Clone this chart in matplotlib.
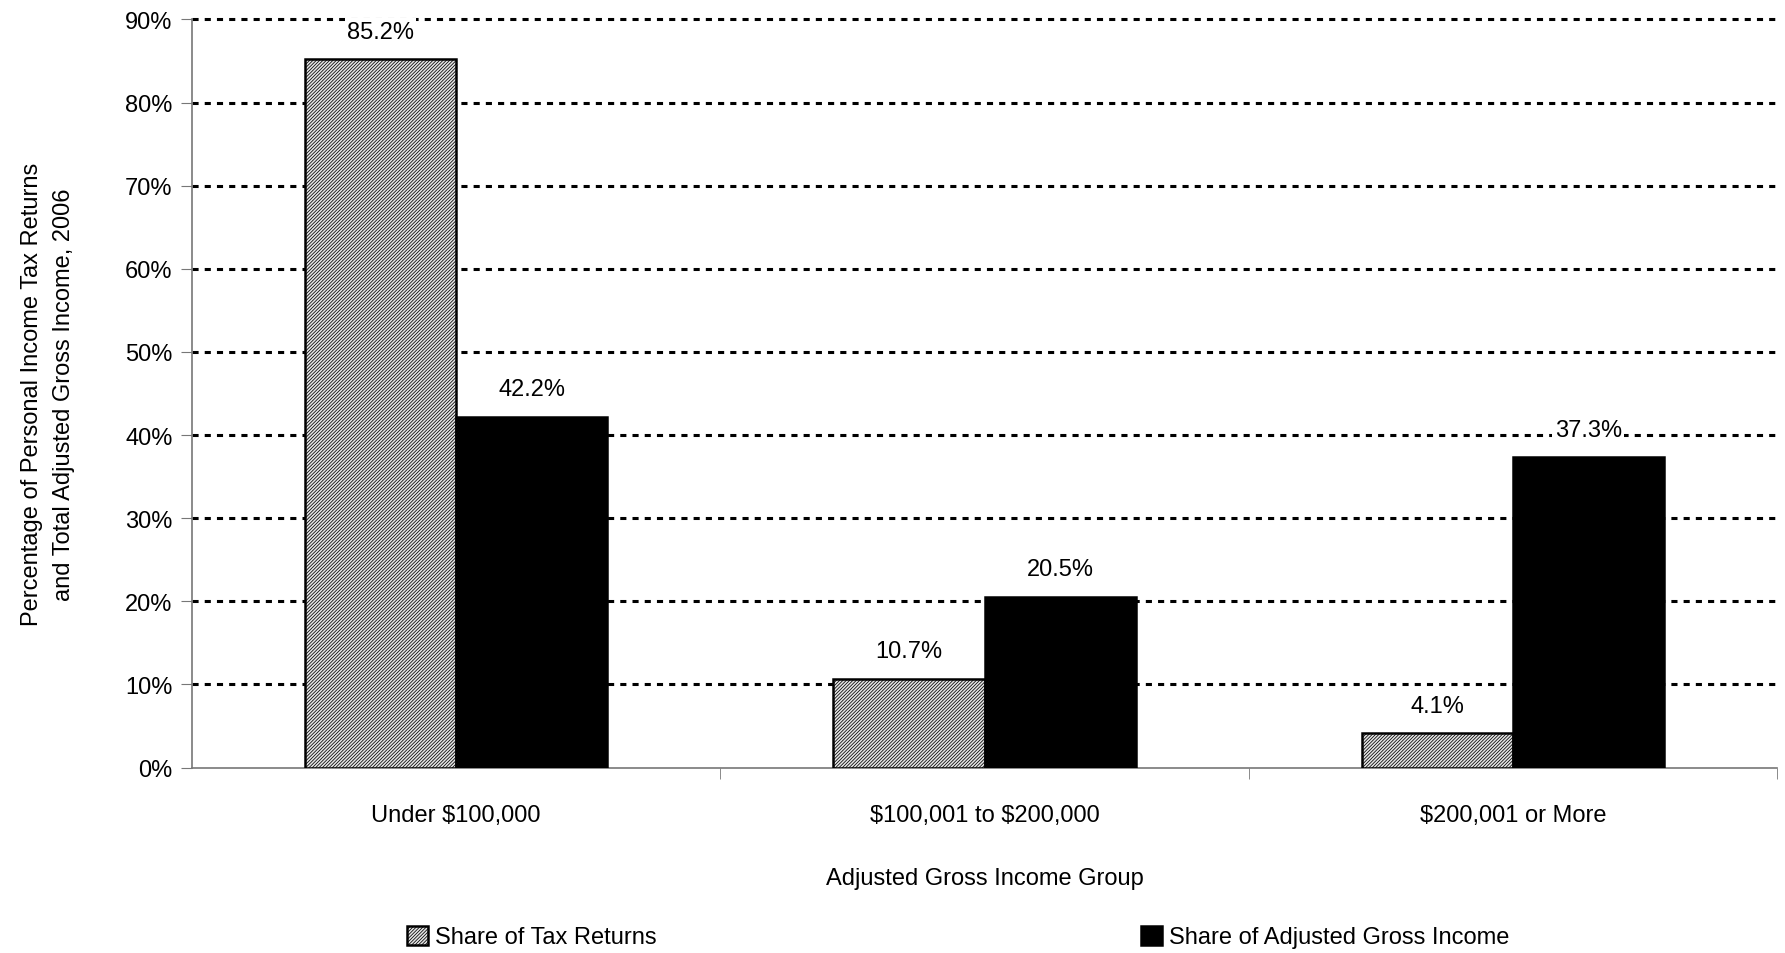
import numpy as np
import matplotlib
matplotlib.use('Agg')
import matplotlib.pyplot as plt

plt.rcParams['font.family'] = ['Liberation Sans', 'DejaVu Sans']
plt.rcParams['hatch.linewidth'] = 0.55

categories = ['Under $100,000', '$100,001 to $200,000', '$200,001 or More']
share_returns = [85.2, 10.7, 4.1]
share_agi = [42.2, 20.5, 37.3]
series_names = ['Share of Tax Returns', 'Share of Adjusted Gross Income']

fig = plt.figure(figsize=(17.85, 9.54), dpi=100)
ax = fig.add_axes([192 / 1785, 1 - 768.5 / 954, (1777 - 192) / 1785, (768.5 - 20.5) / 954])

x = np.arange(len(categories))
w = 0.286
b1 = ax.bar(x - w / 2, share_returns, w, color='#e4e4e4', hatch='//////////',
            edgecolor='black', linewidth=1.8, label=series_names[0], zorder=3)
b2 = ax.bar(x + w / 2, share_agi, w, color='black', edgecolor='black',
            linewidth=1.8, label=series_names[1], zorder=3)

# value labels sit on a white box so the grid dots stop around them
for bars, vals in [(b1, share_returns), (b2, share_agi)]:
    for r, v in zip(bars, vals):
        ax.annotate('{:.1f}%'.format(v), (r.get_x() + r.get_width() / 2, v),
                    xytext=(0, 12), textcoords='offset points',
                    ha='center', va='bottom', fontsize=17, zorder=4,
                    bbox=dict(boxstyle='square,pad=0.1', fc='white', ec='none'))

ax.set_xlim(-0.5, 2.5)
ax.set_ylim(0, 90)
ax.set_yticks(np.arange(0, 91, 10))
ax.set_yticklabels(['{}%'.format(t) for t in range(0, 91, 10)], fontsize=17)
for t in range(10, 91, 10):
    ax.axhline(t, color='black', linestyle=(0, (2, 2)), linewidth=2.2, zorder=1, clip_on=False)

ax.set_xticks(x)
ax.set_xticklabels([c.replace('$', r'\$') for c in categories], fontsize=17)
ax.tick_params(axis='x', length=0, pad=26)
ax.set_xticks([0.5, 1.5, 2.5], minor=True)
ax.tick_params(axis='x', which='minor', length=8, color='#777777', direction='out')
ax.tick_params(axis='y', length=8, color='#777777', direction='out', pad=6)

for s in ['top', 'right']:
    ax.spines[s].set_visible(False)
for s in ['left', 'bottom']:
    ax.spines[s].set_color('#777777')
    ax.spines[s].set_linewidth(1.2)

ax.set_xlabel('Adjusted Gross Income Group', fontsize=17, labelpad=30)
ax.set_ylabel('Percentage of Personal Income Tax Returns\nand Total Adjusted Gross Income, 2006',
              fontsize=17, labelpad=36, linespacing=1.6)

fig.legend(handles=[b1, b2], loc='center', bbox_to_anchor=(958 / 1785, 1 - 938 / 954),
           ncol=2, frameon=False, fontsize=17, columnspacing=20.5, handlelength=0.9,
           handleheight=0.9, handletextpad=0.3)

fig.savefig('out.png', dpi=100)
